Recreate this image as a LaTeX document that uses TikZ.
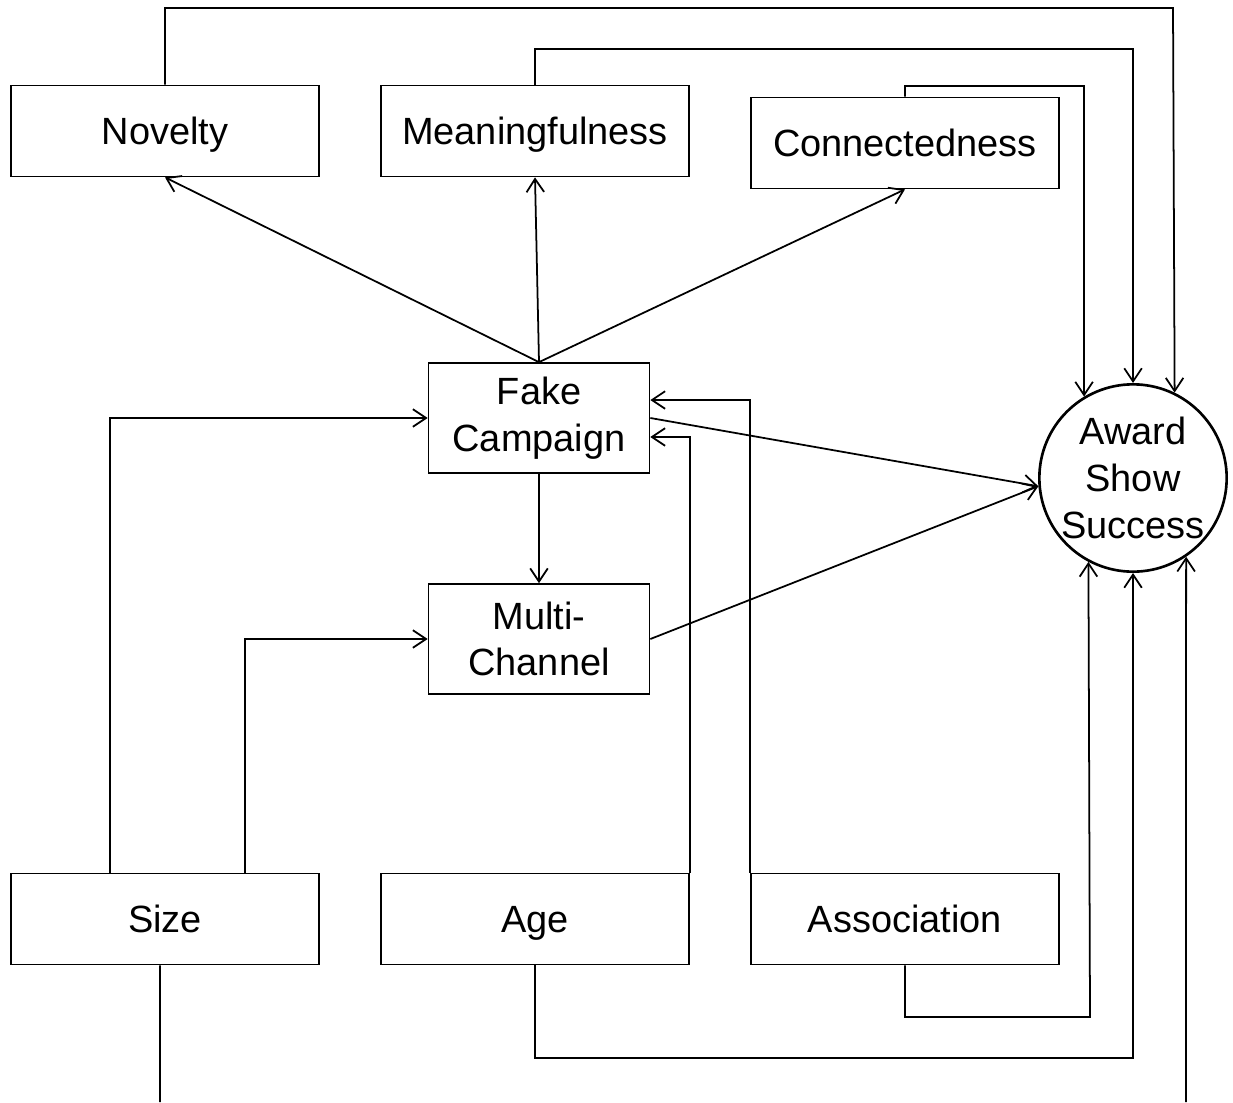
\documentclass[tikz,border=0pt]{standalone}
\usepackage{fontspec}
\setmainfont{Liberation Sans}
\usetikzlibrary{arrows.meta}
\begin{document}
\begin{tikzpicture}[x=0.02cm,y=-0.02cm,
  every node/.style={font=\fontsize{21.6}{26.6}\selectfont},
  box/.style={draw,line width=1pt,inner sep=0pt,align=center},
  wide/.style={box,minimum width=6.16cm,minimum height=1.82cm,text height=20.9pt,text depth=5.7pt},
  mid/.style={box,minimum width=4.42cm,minimum height=2.2cm},
  circ/.style={draw,circle,line width=1.5pt,minimum size=3.72cm,inner sep=0pt,align=center},
  arr/.style={line width=1pt,-{Straight Barb[length=7.5pt,width=10pt,line width=1pt]}},
  ln/.style={line width=1pt}]
\useasboundingbox (0,0) rectangle (1233,1102);
\node[wide] (nov) at (165,131) {Novelty};
\node[wide] (mea) at (535,131) {Meaningfulness};
\node[wide] (con) at (905,143) {Connectedness};
\node[mid] (fake) at (539,418) {Fake\\Campaign};
\node[mid] (mul) at (539,639) {Multi-\\Channel};
\node[wide] (siz) at (165,919) {Size};
\node[wide] (age) at (535,919) {Age};
\node[wide] (asc) at (905,919) {Association};
\node[circ] (aw) at (1133,478) {Award\\Show\\Success};
\coordinate (szend) at (160,1102);
\coordinate (bstart) at (1186,1102);
% from fake campaign up
\draw[arr] (fake.north) -- (nov.south);
\draw[arr] (fake.north) -- (mea.south);
\draw[arr] (fake.north) -- (con.south);
% top loops to award
\draw[arr] (nov.north) |- (1173,8) -- (aw.64.5);
\draw[arr] (mea.north) |- (1133,49) -- (aw.north);
\draw[arr] (con.north) |- (1084,86) -- (aw.121.8);
% to award
\draw[arr] (fake.east) -- (aw.185);
\draw[arr] (mul.east) -- (aw.185);
\draw[arr] (fake.south) -- (mul.north);
% size
\draw[arr] ([xshift=-1.1cm]siz.north) |- (fake.west);
\draw[arr] ([xshift=1.6cm]siz.north) |- (mul.west);
\draw[ln] ([xshift=-0.1cm]siz.south) -- (szend);
% age, association
\draw[arr] (age.north east) |- ([yshift=-0.38cm]fake.east);
\draw[arr] (asc.north west) |- ([yshift=0.36cm]fake.east);
\draw[arr] (asc.south) |- (1090,1017) -- (aw.242.5);
\draw[arr] (age.south) |- (1133,1058) -- (aw.south);
\draw[arr] (bstart) -- (aw.304.7);
\end{tikzpicture}
\end{document}
